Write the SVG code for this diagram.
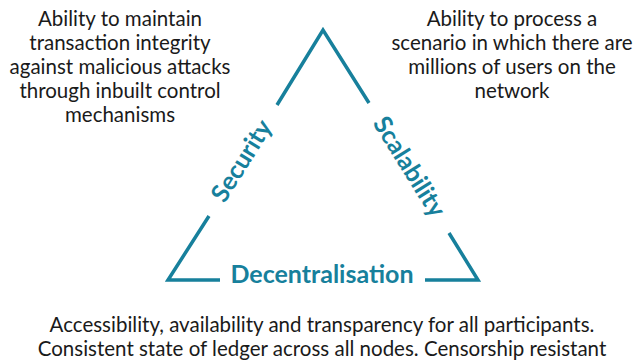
<svg xmlns="http://www.w3.org/2000/svg" width="635" height="360" viewBox="0 0 635 360">
<style>
.edge{fill:none;stroke:#17809c;stroke-width:3.5;stroke-linecap:butt}
.desc{font-family:Lato,"Open Sans",sans-serif;font-size:20.5px;fill:#1a1a1a;text-anchor:middle}
.lbl{font-family:Lato,"Open Sans",sans-serif;font-size:25px;font-weight:bold;fill:#17809c;text-anchor:middle}
</style>
<rect width="635" height="360" fill="#ffffff"/>
<g id="connectors">
<polyline class="edge" points="277,105 323,30 369,103"/>
<polyline class="edge" points="209,216 168,280 220,280"/>
<polyline class="edge" points="425,280 478,280 449,233"/>
</g>
<g id="security">
<text class="lbl" transform="translate(242,161) rotate(-58)" y="8">Security</text>
<text class="desc" x="120" y="26">Ability to maintain</text>
<text class="desc" x="120" y="50">transaction integrity</text>
<text class="desc" x="120" y="74">against malicious attacks</text>
<text class="desc" x="120" y="98">through inbuilt control</text>
<text class="desc" x="120" y="122">mechanisms</text>
</g>
<g id="scalability">
<text class="lbl" transform="translate(409,167) rotate(58)" y="8">Scalability</text>
<text class="desc" x="512" y="26">Ability to process a</text>
<text class="desc" x="512" y="50">scenario in which there are</text>
<text class="desc" x="512" y="74">millions of users on the</text>
<text class="desc" x="512" y="98">network</text>
</g>
<g id="decentralisation">
<text class="lbl" x="322" y="283">Decentralisation</text>
<text class="desc" x="322" y="332">Accessibility, availability and transparency for all participants.</text>
<text class="desc" x="322" y="356">Consistent state of ledger across all nodes. Censorship resistant</text>
</g>
</svg>
